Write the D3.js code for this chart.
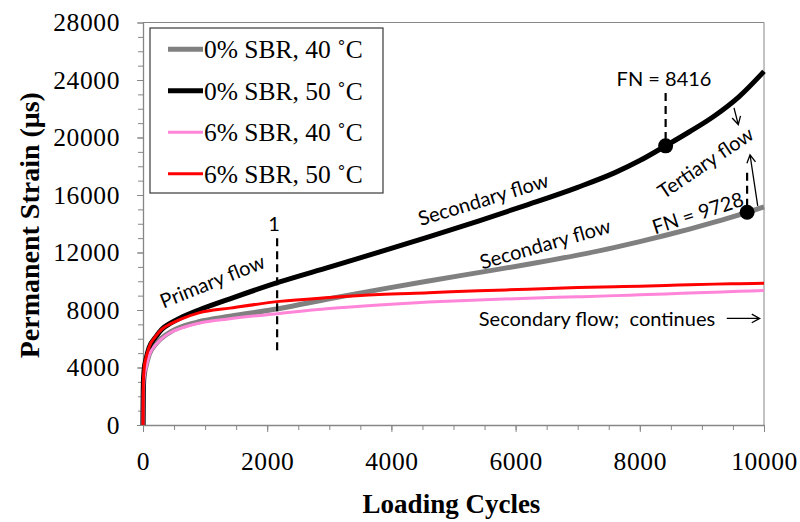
<!DOCTYPE html>
<html>
<head>
<meta charset="utf-8">
<script src="https://cdn.jsdelivr.net/npm/d3@7"></script>
<style>
  body { margin: 0; background: #fff; }
  .tick text { font-family: "Liberation Serif", "Times New Roman", serif; }
  .note { font-family: Lato, "Open Sans", sans-serif; font-size: 20px; fill: #000; }
</style>
</head>
<body>
<script>
// loading cycles shared by every series
var cycles = [0, 5, 20, 50, 100, 200, 300, 450, 600, 900, 1400, 2200, 3000, 3800, 4600, 5400, 6200, 7000, 7600, 8000, 8416, 8800, 9200, 9600, 10000]

// permanent strain (microstrain)
var sbr0_40 = [0, 2400, 3400, 4100, 4900, 5600, 6050, 6500, 6800, 7180, 7560, 8100, 8780, 9420, 10020, 10600, 11180, 11820, 12360, 12760, 13200, 13630, 14110, 14620, 15180]
var sbr0_50 = [0, 2800, 3900, 4600, 5400, 6100, 6650, 7100, 7450, 8000, 8780, 9950, 10980, 12020, 13085, 14190, 15335, 16535, 17555, 18395, 19420, 20400, 21500, 22850, 24600]
var sbr6_40 = [0, 2300, 3300, 4000, 4850, 5550, 6000, 6450, 6720, 7080, 7390, 7760, 8100, 8350, 8550, 8700, 8820, 8920, 9000, 9060, 9120, 9180, 9240, 9300, 9360]
var sbr6_50 = [0, 2900, 4000, 4700, 5450, 6150, 6650, 7050, 7350, 7800, 8130, 8600, 8870, 9080, 9200, 9340, 9440, 9560, 9620, 9660, 9710, 9760, 9800, 9830, 9860]

var seriesNames = ['0% SBR, 40 ˚C', '0% SBR, 50 ˚C', '6% SBR, 40 ˚C', '6% SBR, 50 ˚C']
var seriesColors = ['#808080', '#000000', '#ff85d8', '#ff0000']
var seriesWidths = [5, 5, 3, 3]
var seriesValues = [sbr0_40, sbr0_50, sbr6_40, sbr6_50]

// flow number points
var fnCycles = [8416, 9728]
var fnStrain = [19420, 14800]

var xTicks = [0, 2000, 4000, 6000, 8000, 10000]
var yTicks = [0, 4000, 8000, 12000, 16000, 20000, 24000, 28000]

var W = 800, H = 522
var margin = {top: 22.5, right: 36, bottom: 97, left: 143}
var width = W - margin.left - margin.right
var height = H - margin.top - margin.bottom

var x = d3.scaleLinear().domain([0, 10000]).range([0, width])
var y = d3.scaleLinear().domain([0, 28000]).range([height, 0])

var svg = d3.select('body').append('svg')
  .attr('width', W)
  .attr('height', H)
var g = svg.append('g')
  .attr('transform', `translate(${margin.left}, ${margin.top})`)

var axisColor = '#868686'

// plot area border (top / right)
g.append('path')
  .attr('d', `M0,0H${width}V${height}`)
  .attr('fill', 'none')
  .attr('stroke', axisColor)
  .attr('stroke-width', 1)

// minor ticks
g.append('g')
  .attr('transform', `translate(0, ${height})`)
  .call(d3.axisBottom(x).tickValues(d3.range(0, 10001, 500)).tickSize(5).tickFormat(''))
  .call(a => a.select('.domain').remove())
  .call(a => a.selectAll('line').attr('stroke', axisColor))
g.append('g')
  .call(d3.axisLeft(y).tickValues(d3.range(0, 28001, 1000)).tickSize(5).tickFormat(''))
  .call(a => a.select('.domain').remove())
  .call(a => a.selectAll('line').attr('stroke', axisColor))

// major axes
var xAxis = g.append('g')
  .attr('transform', `translate(0, ${height})`)
  .call(d3.axisBottom(x).tickValues(xTicks).tickSize(7).tickPadding(20).tickSizeOuter(0).tickFormat(d3.format('d')))
var yAxis = g.append('g')
  .call(d3.axisLeft(y).tickValues(yTicks).tickSize(6).tickPadding(17).tickSizeOuter(0).tickFormat(d3.format('d')))
;[xAxis, yAxis].forEach(function (a) {
  a.select('.domain').attr('stroke', axisColor).attr('stroke-width', 1.3)
  a.selectAll('line').attr('stroke', axisColor)
  a.selectAll('text').attr('font-size', 25.5).attr('fill', '#000').style('letter-spacing', '0.6px')
})

// axis titles
svg.append('text')
  .attr('x', margin.left + x(5000) - 2)
  .attr('y', 513)
  .attr('text-anchor', 'middle')
  .attr('font-family', '"Liberation Serif", "Times New Roman", serif')
  .attr('font-weight', 'bold')
  .attr('font-size', 27)
  .text('Loading Cycles')
svg.append('text')
  .attr('transform', `translate(39, ${margin.top + y(13900)}) rotate(-90)`)
  .attr('text-anchor', 'middle')
  .attr('font-family', '"Liberation Serif", "Times New Roman", serif')
  .attr('font-weight', 'bold')
  .attr('font-size', 28)
  .text('Permanent Strain (μs)')

// curves
var line = d3.line()
  .x((d, i) => x(cycles[i]))
  .y(d => y(d))
  .curve(d3.curveMonotoneX)

seriesValues.forEach(function (vals, k) {
  g.append('path')
    .datum(vals)
    .attr('d', line)
    .attr('fill', 'none')
    .attr('stroke', seriesColors[k])
    .attr('stroke-width', seriesWidths[k])
    .attr('stroke-linejoin', 'round')
})

// dashed guides
function dashed(x0, y0, x1, y1) {
  g.append('line')
    .attr('x1', x(x0)).attr('y1', y(y0))
    .attr('x2', x(x1)).attr('y2', y(y1))
    .attr('stroke', '#000')
    .attr('stroke-width', 2.2)
    .attr('stroke-dasharray', '8,5')
}
dashed(2160, 13000, 2160, 5200)
dashed(fnCycles[0], 23100, fnCycles[0], fnStrain[0])
dashed(fnCycles[1], 17550, fnCycles[1], fnStrain[1])

g.selectAll('circle.fn')
  .data(fnCycles)
  .enter().append('circle')
  .attr('class', 'fn')
  .attr('cx', d => x(d))
  .attr('cy', (d, i) => y(fnStrain[i]))
  .attr('r', 7.5)
  .attr('fill', '#000')

// thin arrows with open heads
function arrow(x0, y0, x1, y1) {
  var px0 = x(x0), py0 = y(y0), px1 = x(x1), py1 = y(y1)
  var ang = Math.atan2(py1 - py0, px1 - px0)
  var L = 9, spread = 0.5
  g.append('path')
    .attr('d', `M${px0},${py0}L${px1},${py1}` +
      `M${px1 - L * Math.cos(ang - spread)},${py1 - L * Math.sin(ang - spread)}` +
      `L${px1},${py1}` +
      `L${px1 - L * Math.cos(ang + spread)},${py1 - L * Math.sin(ang + spread)}`)
    .attr('fill', 'none')
    .attr('stroke', '#000')
    .attr('stroke-width', 1.3)
}
arrow(9517, 22060, 9586, 20900)
arrow(9899, 15250, 9775, 18800)
arrow(9400, 7415, 9930, 7415)

// text notes
var notes = [
  {t: 'Primary flow', c: 1111, s: 10050, r: -22},
  {t: '1', c: 2110, s: 14070, r: 0},
  {t: 'Secondary flow', c: 5475, s: 15750, r: -17},
  {t: 'Secondary flow', c: 6473, s: 12650, r: -16},
  {t: 'FN = 8416', c: 8390, s: 24150, r: 0},
  {t: 'Tertiary flow', c: 9050, s: 18300, r: -34},
  {t: 'FN = 9728', c: 8930, s: 14800, r: -18},
  {t: 'Secondary flow;  continues', c: 7310, s: 7415, r: 0}
]
g.selectAll('text.note')
  .data(notes)
  .enter().append('text')
  .attr('class', 'note')
  .attr('text-anchor', 'middle')
  .attr('dominant-baseline', 'central')
  .attr('transform', d => `translate(${x(d.c)}, ${y(d.s)}) rotate(${d.r})`)
  .style('white-space', 'pre')
  .text(d => d.t)

// legend
var legend = svg.append('g').attr('transform', 'translate(150, 28)')
legend.append('rect')
  .attr('width', 233)
  .attr('height', 165)
  .attr('fill', '#fff')
  .attr('stroke', '#3a3a3a')
  .attr('stroke-width', 1.2)
seriesNames.forEach(function (name, k) {
  var row = legend.append('g').attr('transform', `translate(0, ${21.3 + k * 41.5})`)
  row.append('line')
    .attr('x1', 18).attr('x2', 53)
    .attr('stroke', seriesColors[k])
    .attr('stroke-width', seriesWidths[k])
  row.append('text')
    .attr('x', 54)
    .attr('dy', '0.35em')
    .attr('font-family', '"Liberation Serif", "Times New Roman", serif')
    .attr('font-size', 25.5)
    .text(name)
})
</script>
</body>
</html>
